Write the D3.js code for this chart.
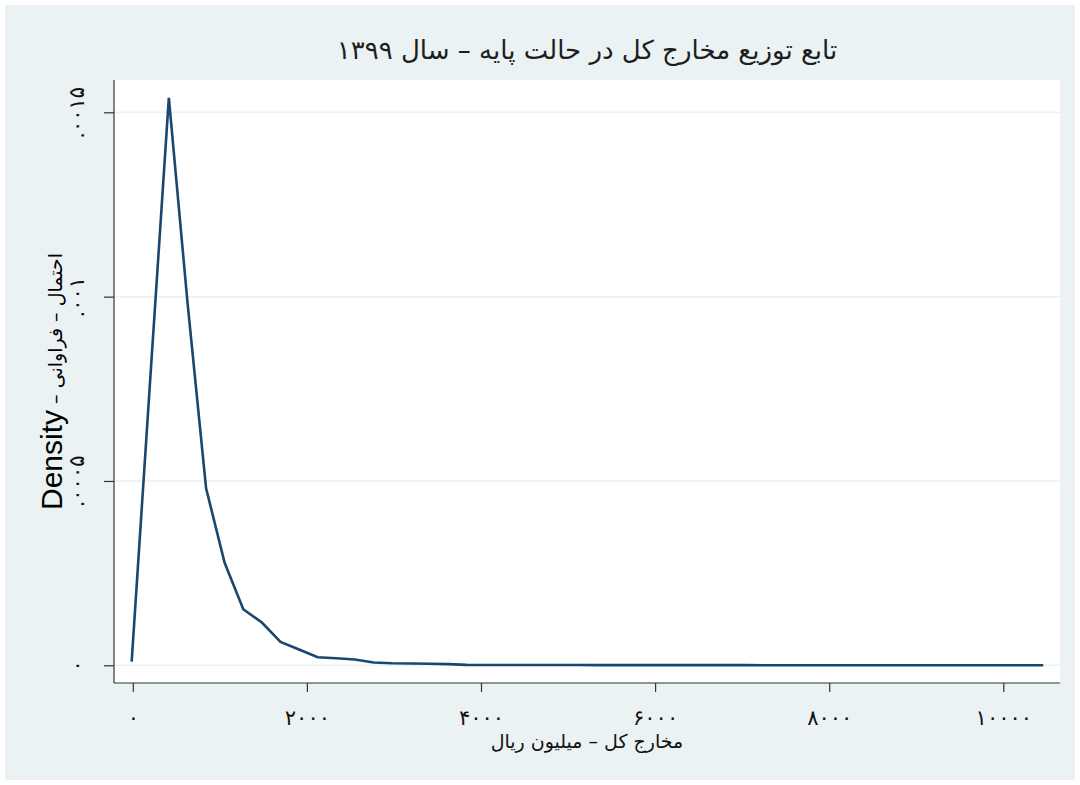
<!DOCTYPE html>
<html><head><meta charset="utf-8">
<script src="https://cdn.jsdelivr.net/npm/d3@7"></script>
<style>html,body{margin:0;padding:0;background:#fff;}</style>
</head><body>
<script>
// ---- data ----
const titleText = "تابع توزیع مخارج کل در حالت پایه – سال ۱۳۹۹";
const xTitle = "مخارج کل – میلیون ریال";
const yTitleLatin = "Density";
const yTitlePersian = " – احتمال – فراوانی";
const xTickValues = [0, 2000, 4000, 6000, 8000, 10000];
const xTickLabels = ["۰", "۲۰۰۰", "۴۰۰۰", "۶۰۰۰", "۸۰۰۰", "۱۰۰۰۰"];
const yTickValues = [0, 0.0005, 0.001, 0.0015];
const yTickLabels = ["۰", ".۰۰۰۵", ".۰۰۱", ".۰۰۱۵"];
const expenditure = [-13, 201, 414, 628, 842, 1055, 1269, 1483, 1697, 1910,
  2124, 2338, 2551, 2765, 2979, 3193, 3406, 3620, 3834, 4047,
  4261, 4475, 4689, 4902, 5116, 5330, 5543, 5757, 5971, 6185,
  6398, 6612, 6826, 7039, 7253, 7467, 7681, 7894, 8108, 8322,
  8535, 8749, 8963, 9177, 9390, 9604, 9818, 10031, 10245, 10459];
const density = [0.0000098, 0.000779, 0.001539, 0.000985, 0.00048, 0.000278, 0.000152, 0.000116, 0.0000632, 0.0000429,
  0.0000217, 0.000019, 0.0000157, 0.0000076, 0.0000054, 0.0000049, 0.0000043, 0.0000033, 0.0000012, 0.0000010,
  0.0000009, 0.0000008, 0.0000008, 0.0000007, 0.0000007, 0.0000006, 0.0000006, 0.0000005, 0.0000005, 0.0000005,
  0.0000004, 0.0000004, 0.0000004, 0.0000004, 0.0000003, 0.0000003, 0.0000003, 0.0000003, 0.0000003, 0.0000002,
  0.0000002, 0.0000002, 0.0000002, 0.0000002, 0.0000002, 0.0000002, 0.0000001, 0.0000001, 0.0000001, 0.0000001];

// ---- layout ----
const W = 1080, H = 785;
const plot = {left: 114, right: 1060, top: 80, bottom: 683};
const bg = "#eaf2f3", lineColor = "#1a476f";
const arabicFont = "'DejaVu Sans', sans-serif";

const svg = d3.select("body").append("svg").attr("width", W).attr("height", H);
svg.append("rect").attr("x", 0).attr("y", 0).attr("width", W).attr("height", H).attr("fill", "#fff");
svg.append("rect").attr("x", 5).attr("y", 5).attr("width", W - 10).attr("height", H - 10).attr("fill", bg);
svg.append("rect").attr("x", plot.left).attr("y", plot.top)
  .attr("width", plot.right - plot.left).attr("height", plot.bottom - plot.top).attr("fill", "#fff");

const x = d3.scaleLinear().domain([0, 10000]).range([132.8, 1003.3]);
const y = d3.scaleLinear().domain([0, 0.0015]).range([665.3, 112.3]);

// gridlines
svg.append("g").selectAll("line").data(yTickValues).join("line")
  .attr("x1", plot.left).attr("x2", plot.right)
  .attr("y1", d => y(d)).attr("y2", d => y(d))
  .attr("stroke", bg).attr("stroke-width", 1.6);

// density line
const pts = expenditure.map((v, i) => [v, density[i]]);
svg.append("path").datum(pts)
  .attr("d", d3.line().x(d => x(d[0])).y(d => y(d[1])))
  .attr("fill", "none").attr("stroke", lineColor).attr("stroke-width", 2.6)
  .attr("stroke-linejoin", "miter");

// x axis
const xAxis = d3.axisBottom(x).tickValues(xTickValues).tickSize(9).tickSizeOuter(0)
  .tickFormat((d, i) => xTickLabels[i]);
const gx = svg.append("g").attr("transform", `translate(0,${plot.bottom})`).call(xAxis);
gx.select(".domain").remove();
gx.append("line").attr("x1", plot.left).attr("x2", plot.right).attr("y1", 0).attr("y2", 0)
  .attr("stroke", "#333").attr("stroke-width", 1.2);
gx.selectAll(".tick line").attr("stroke", "#333").attr("stroke-width", 1.2);
gx.selectAll(".tick text").attr("font-family", arabicFont).attr("font-size", 21)
  .attr("fill", "#111").attr("dy", null).attr("y", 42);

// y axis
const yAxis = d3.axisLeft(y).tickValues(yTickValues).tickSize(10).tickSizeOuter(0)
  .tickFormat((d, i) => yTickLabels[i]);
const gy = svg.append("g").attr("transform", `translate(${plot.left},0)`).call(yAxis);
gy.select(".domain").remove();
gy.append("line").attr("x1", 0).attr("x2", 0).attr("y1", plot.top).attr("y2", plot.bottom)
  .attr("stroke", "#333").attr("stroke-width", 1.2);
gy.selectAll(".tick line").attr("stroke", "#333").attr("stroke-width", 1.2);
gy.selectAll(".tick text").attr("font-family", arabicFont).attr("font-size", 21)
  .attr("fill", "#111").attr("x", null).attr("dy", null)
  .attr("text-anchor", "middle")
  .attr("transform", "translate(-36,0) rotate(-90)")
  .attr("y", 0).attr("dominant-baseline", "middle");

// title
svg.append("text").attr("x", (plot.left + plot.right) / 2).attr("y", 59)
  .attr("text-anchor", "middle").attr("direction", "rtl")
  .attr("font-family", arabicFont).attr("font-size", 26).attr("fill", "#1e1e1e")
  .text(titleText);

// x title
svg.append("text").attr("x", (plot.left + plot.right) / 2).attr("y", 748)
  .attr("text-anchor", "middle").attr("direction", "rtl")
  .attr("font-family", arabicFont).attr("font-size", 19).attr("fill", "#111")
  .text(xTitle);

// y title
const yt = svg.append("text")
  .attr("transform", `translate(62,${(plot.top + plot.bottom) / 2}) rotate(-90)`)
  .attr("text-anchor", "middle").attr("direction", "ltr").attr("fill", "#000");
yt.append("tspan").attr("font-family", "'Liberation Sans', Arial, sans-serif").attr("font-size", 30).text(yTitleLatin);
yt.append("tspan").attr("font-family", arabicFont).attr("font-size", 19).text(yTitlePersian);
</script>
</body></html>
